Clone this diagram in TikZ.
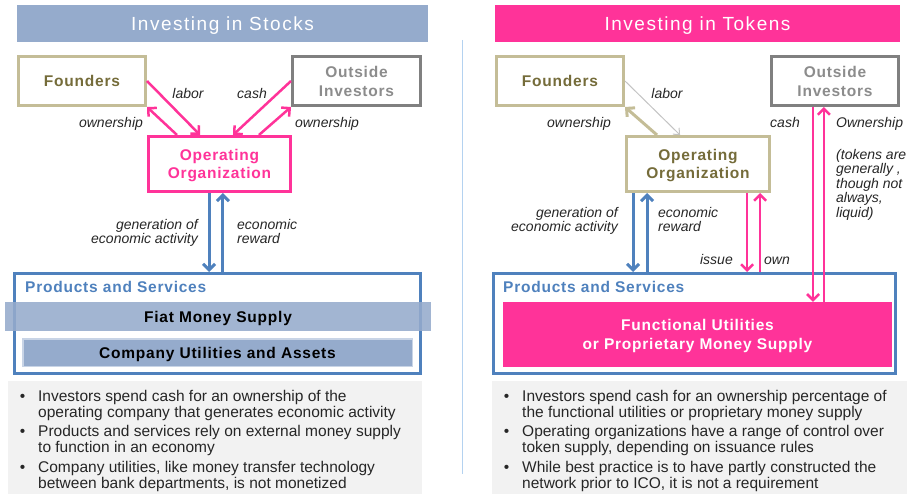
\documentclass[tikz,border=0pt]{standalone}
\usepackage{fontspec}
\setmainfont{Liberation Sans}
\newfontfamily\titlefont[LetterSpace=8]{Liberation Sans}
\newfontfamily\boxfont[LetterSpace=5]{Liberation Sans}
\usetikzlibrary{arrows.meta,calc}
\definecolor{stockblue}{RGB}{149,171,204}
\definecolor{pinkc}{RGB}{255,51,153}
\definecolor{blueb}{RGB}{79,129,189}
\definecolor{tanb}{RGB}{196,189,151}
\definecolor{olivec}{RGB}{117,108,58}
\definecolor{grayb}{RGB}{128,128,128}
\definecolor{grayt}{RGB}{140,140,140}
\definecolor{bulletbg}{RGB}{242,242,242}
\definecolor{dividerc}{RGB}{180,210,240}
\definecolor{bandedge}{RGB}{200,212,230}
\definecolor{txt}{RGB}{38,38,38}
\definecolor{laborgray}{RGB}{195,195,195}
\begin{document}
\begin{tikzpicture}[x=1pt,y=-1pt,
  >={Straight Barb[length=6pt,width=12pt]},
  titlebar/.style={inner sep=0pt, text=white, text depth=0.5pt, font=\titlefont\fontsize{19}{22}\selectfont},
  box/.style={draw, line width=3pt, inner sep=0pt, align=center, fill=white,
    font=\boxfont\bfseries\fontsize{15.5}{18.5}\selectfont},
  onebox/.style={box, text depth=-3pt},
  twobox/.style={box, font=\boxfont\bfseries\fontsize{15.5}{19}\selectfont, text depth=-2.8pt},
  opbox/.style={box, font=\boxfont\bfseries\fontsize{15.5}{18}\selectfont, text depth=-2.7pt},
  band/.style={fill=stockblue, inner sep=0pt, text=black, text depth=-0.7pt,
    font=\boxfont\bfseries\fontsize{15.5}{18.5}\selectfont},
  pslabel/.style={inner sep=0pt, text=blueb, font=\boxfont\bfseries\fontsize{15.5}{18.5}\selectfont},
  lbl/.style={inner sep=0pt, text=txt, font=\itshape\fontsize{14}{14.5}\selectfont},
  bultxt/.style={inner sep=0pt, text=txt, align=left, font=\fontsize{15.5}{16}\selectfont},
  pinkarr/.style={draw=pinkc, line width=2.5pt, ->},
  bluearr/.style={draw=blueb, line width=3pt, ->},
  tanarr/.style={draw=tanb, line width=3pt, ->},
  grayarr/.style={draw=laborgray, line width=1pt, -{Straight Barb[length=5pt,width=9pt]}}
]
\useasboundingbox (0,0) rectangle (907,494);

% bullet backgrounds
\node[fill=bulletbg, inner sep=0pt, minimum width=414pt, minimum height=113pt] (bgL) at (215,437.5) {};
\node[fill=bulletbg, inner sep=0pt, minimum width=415pt, minimum height=113pt] (bgR) at (699.5,437.5) {};

% titles
\node[titlebar, fill=stockblue, minimum width=411pt, minimum height=37pt] (tL) at (222.5,23.5) {Investing in Stocks};
\node[titlebar, fill=pinkc, minimum width=405pt, minimum height=37pt] (tR) at (697.5,23.5) {Investing in Tokens};

% divider
\coordinate (dvT) at (462,40);
\coordinate (dvB) at (462,474);
\draw[dividerc, line width=1pt] (dvT) -- (dvB);

% ---------- left panel ----------
\node[onebox, draw=tanb, text=olivec, minimum width=127pt, minimum height=49pt] (fL) at (82,81) {Founders};
\node[twobox, draw=grayb, text=grayt, minimum width=128pt, minimum height=49pt] (oL) at (356.5,81) {Outside\\Investors};
\node[opbox, draw=pinkc, text=pinkc, minimum width=142pt, minimum height=55pt] (opL) at (219.5,164) {Operating\\Organization};

\node[draw=blueb, line width=3pt, inner sep=0pt, minimum width=406pt, minimum height=100pt] (psL) at (217.5,323.5) {};
\node[pslabel, anchor=base west] (psLt) at (25,292) {Products and Services};
\node[band, minimum width=426pt, minimum height=29pt, fill opacity=0.88, text opacity=1] (fiat) at (218,316.5) {Fiat Money Supply};
\node[band, draw=bandedge, line width=1.5pt, minimum width=389.5pt, minimum height=27.5pt] (comp) at (217.5,352.5) {Company Utilities and Assets};

\coordinate (aL1) at ($(opL.north west)!0.366!(opL.north east)$);
\coordinate (aL2) at ($(opL.north west)!0.207!(opL.north east)$);
\coordinate (aL3) at ($(opL.north west)!0.593!(opL.north east)$);
\coordinate (aL4) at ($(opL.north west)!0.772!(opL.north east)$);
\draw[pinkarr] (fL.east) -- (aL1);
\draw[pinkarr] (aL2) -- (fL.south east);
\draw[pinkarr] (oL.west) -- (aL3);
\draw[pinkarr] (aL4) -- (oL.south west);

\coordinate (bL1) at ($(opL.south west)!0.428!(opL.south east)$);
\coordinate (bL2) at ($(opL.south west)!0.524!(opL.south east)$);
\draw[bluearr] (bL1) -- (bL1 |- psL.north);
\draw[bluearr] (bL2 |- psL.north) -- (bL2);

\node[lbl, anchor=base] (lab1) at (188,99) {labor};
\node[lbl, anchor=base] (lab2) at (252,99) {cash};
\node[lbl, anchor=base] (lab3) at (111,128) {ownership};
\node[lbl, anchor=base] (lab4) at (327,128) {ownership};
\node[lbl, align=right, anchor=north east] (lab5) at (198,219) {generation of\\economic activity};
\node[lbl, align=left, anchor=north west] (lab6) at (237,219) {economic\\reward};

\node[bultxt, anchor=north west] (bl1) at (38,389.7) {\llap{\textbullet\hspace{13pt}}Investors spend cash for an ownership of the\\operating company that generates economic activity};
\node[bultxt, anchor=north west] (bl2) at (38,424.7) {\llap{\textbullet\hspace{13pt}}Products and services rely on external money supply\\to function in an economy};
\node[bultxt, anchor=north west] (bl3) at (38,461.2) {\llap{\textbullet\hspace{13pt}}Company utilities, like money transfer technology\\between bank departments, is not monetized};

% ---------- right panel ----------
\node[onebox, draw=tanb, text=olivec, minimum width=127pt, minimum height=49pt] (fR) at (560,81) {Founders};
\node[twobox, draw=grayb, text=grayt, minimum width=127pt, minimum height=49pt] (oR) at (835,81) {Outside\\Investors};
\node[opbox, draw=tanb, text=olivec, minimum width=143pt, minimum height=55pt] (opR) at (698,164) {Operating\\Organization};

\node[draw=blueb, line width=3pt, inner sep=0pt, minimum width=402pt, minimum height=100pt] (psR) at (694.5,323.5) {};
\node[pslabel, anchor=base west] (psRt) at (503,292) {Products and Services};
\node[fill=pinkc, text=white, inner sep=0pt, align=center, minimum width=389pt, minimum height=65pt, text depth=-0.7pt,
  font=\boxfont\bfseries\fontsize{15.5}{18.5}\selectfont] (fu) at (697.5,334.5) {Functional Utilities\\or Proprietary Money Supply};

\coordinate (aR1) at ($(opR.north west)!0.377!(opR.north east)$);
\coordinate (aR2) at ($(opR.north west)!0.219!(opR.north east)$);
\draw[grayarr] (fR.east) -- (aR1);
\draw[tanarr] (aR2) -- (fR.south east);

\coordinate (cR1) at ($(oR.south west)!0.331!(oR.south east)$);
\coordinate (cR2) at ($(oR.south west)!0.415!(oR.south east)$);
\draw[pinkarr] (cR1) -- (cR1 |- fu.north);
\draw[pinkarr] (cR2 |- fu.north) -- (cR2);

\coordinate (bR1) at ($(opR.south west)!0.055!(opR.south east)$);
\coordinate (bR2) at ($(opR.south west)!0.151!(opR.south east)$);
\coordinate (bR3) at ($(opR.south west)!0.836!(opR.south east)$);
\coordinate (bR4) at ($(opR.south west)!0.925!(opR.south east)$);
\draw[bluearr] (bR1) -- (bR1 |- psR.north);
\draw[bluearr] (bR2 |- psR.north) -- (bR2);
\draw[pinkarr] (bR3) -- (bR3 |- psR.north);
\draw[pinkarr] (bR4 |- psR.north) -- (bR4);

\node[lbl, anchor=base] (rlab1) at (667,98.5) {labor};
\node[lbl, anchor=base] (rlab2) at (579,128) {ownership};
\node[lbl, anchor=base east] (rlab3) at (800,128) {cash};
\node[lbl, anchor=base west] (rlab4) at (836,128) {Ownership};
\node[lbl, align=left, anchor=north west] (rlab5) at (836,148.8) {(tokens are\\generally ,\\though not\\always,\\liquid)};
\node[lbl, align=right, anchor=north east] (rlab6) at (618,206.8) {generation of\\economic activity};
\node[lbl, align=left, anchor=north west] (rlab7) at (658,206.8) {economic\\reward};
\node[lbl, anchor=base east] (rlab8) at (733,265) {issue};
\node[lbl, anchor=base west] (rlab9) at (764,265) {own};

\node[bultxt, anchor=north west] (br1) at (522,389.7) {\llap{\textbullet\hspace{13pt}}Investors spend cash for an ownership percentage of\\the functional utilities or proprietary money supply};
\node[bultxt, anchor=north west] (br2) at (522,424.7) {\llap{\textbullet\hspace{13pt}}Operating organizations have a range of control over\\token supply, depending on issuance rules};
\node[bultxt, anchor=north west] (br3) at (522,461.2) {\llap{\textbullet\hspace{13pt}}While best practice is to have partly constructed the\\network prior to ICO, it is not a requirement};
\end{tikzpicture}
\end{document}
